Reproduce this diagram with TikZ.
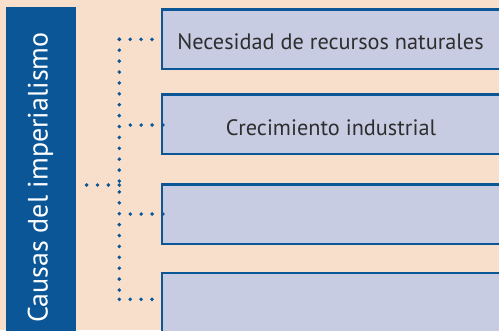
\documentclass[tikz,border=0pt]{standalone}
\usepackage{fontspec}
\setmainfont{PT Sans}
\usetikzlibrary{decorations.markings}
\definecolor{bgpeach}{HTML}{F7DFCB}
\definecolor{darkblue}{HTML}{0B5697}
\definecolor{boxfill}{HTML}{C8CCE3}
\definecolor{txtgray}{HTML}{2E2E2E}
\begin{document}
\begin{tikzpicture}[x=1pt,y=-1pt,
  causebox/.style={draw=darkblue, line width=2.3pt, fill=boxfill},
  dotline/.style={decoration={markings, mark=between positions 0 and 1 step 10.9pt with {\fill[darkblue] (0,0) circle[radius=1.95pt];}}, decorate},
  boxtext/.style={text=txtgray, font=\fontsize{22.3}{25}\selectfont, anchor=base, inner sep=0pt}]
\useasboundingbox (0,0) rectangle (499,330);
\clip (0,0) rectangle (499,330);
\fill[bgpeach] (0,0) rectangle (499,330);
% title bar
\fill[darkblue] (6,7) rectangle (76,335);
\node[rotate=90, anchor=base, inner sep=0pt, text=white, font=\fontsize{28}{30}\selectfont] (title) at (47.5,177.5) {Causas del imperialismo};
\coordinate (tr) at (76,185);
% boxes
\draw[causebox] (162,9.5) rectangle (510,69);
\draw[causebox] (162,94.5) rectangle (510,154);
\draw[causebox] (162,184.5) rectangle (510,244);
\draw[causebox] (162,273) rectangle (510,340);
\coordinate (l1) at (161,39.3);
\coordinate (l4) at (161,299.3);
\coordinate (l2) at (163,125);
\coordinate (l3) at (163,214);
\coordinate (s2) at (130,125);
\coordinate (s3) at (130,214);
\node[boxtext] (t1) at (330.5,49.5) {Necesidad de recursos naturales};
\node[boxtext] (t2) at (331,135) {Crecimiento industrial};
% connectors
\coordinate (vt) at (119.3,39.3);
\coordinate (vb) at (119.3,299.3);
\coordinate (vm) at (119.3,185);
\path[dotline] (vt) -- (vb);
\path[dotline] (vt) -- (l1);
\path[dotline] (vb) -- (l4);
\path[dotline] (vm) -- (tr);
\path[dotline] (l2) -- (s2);
\path[dotline] (l3) -- (s3);
\end{tikzpicture}
\end{document}
